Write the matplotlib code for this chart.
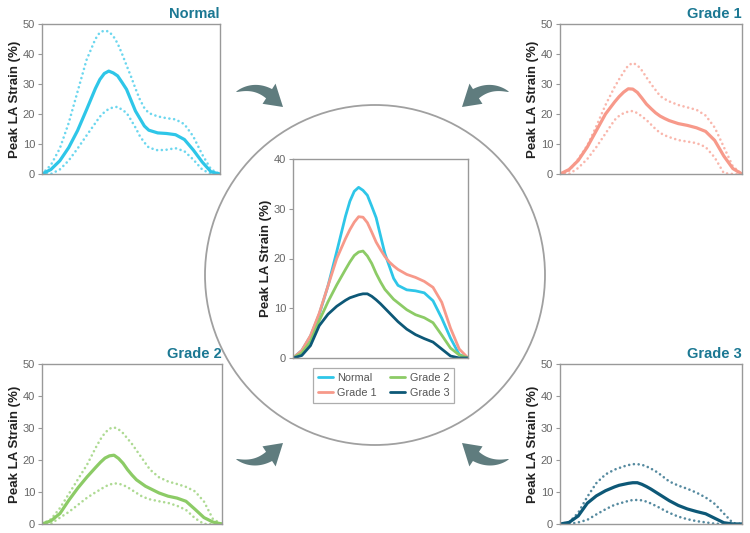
import numpy as np
import matplotlib
matplotlib.use("Agg")
import matplotlib.pyplot as plt
from matplotlib.patches import Circle, Polygon

plt.rcParams['font.family'] = ['Liberation Sans', 'DejaVu Sans']

# Zeitachse (Anteil des Herzzyklus)
zyklus = [0, 0.05, 0.10, 0.15, 0.20, 0.25, 0.30, 0.325, 0.35, 0.375, 0.40, 0.425, 0.45, 0.475,
          0.50, 0.525, 0.55, 0.575, 0.60, 0.65, 0.70, 0.75, 0.80, 0.85, 0.90, 0.95, 1.0]

gruppen = ["Normal", "Grade 1", "Grade 2", "Grade 3"]

# Mittelwerte
normal_mittel = [0, 1.5, 4.4, 8.8, 14.5, 21.4, 28.5, 31.5, 33.5, 34.3, 33.7, 32.7, 30.5, 28.2,
                 24.6, 21, 18.5, 16, 14.6, 13.7, 13.5, 13.1, 11.5, 8, 4, 0.7, 0]
grade1_mittel = [0, 1.5, 4.5, 9, 14.5, 20, 24, 25.8, 27.3, 28.4, 28.3, 27.2, 25.3, 23.3,
                 21.8, 20.4, 19.3, 18.5, 17.8, 16.8, 16.2, 15.4, 14.2, 11.2, 6, 1.8, 0]
grade2_mittel = [0, 1, 3.3, 7.5, 11.3, 14.7, 17.8, 19.3, 20.6, 21.3, 21.5, 20.5, 19, 17,
                 15.3, 13.8, 12.8, 11.8, 11.1, 9.7, 8.7, 8.1, 7.1, 4.6, 2, 0.6, 0]
grade3_mittel = [0, 0.5, 2.5, 6.5, 8.8, 10.4, 11.6, 12.1, 12.4, 12.7, 12.9, 12.9, 12.4, 11.7,
                 10.9, 10, 9.1, 8.2, 7.3, 5.8, 4.7, 3.9, 3.2, 1.8, 0.4, 0, 0]

# obere Grenzen (gepunktet)
normal_oben = [0, 3, 8.5, 17, 27.5, 38, 45, 47.2, 47.8, 47.5, 46, 43.5, 40, 36.2,
               32.5, 28.5, 24.8, 22, 20.3, 19.2, 18.6, 18.2, 16.6, 12.5, 6.5, 1.5, 0]
grade1_oben = [0, 1, 5, 9.5, 16, 23, 29, 31.6, 34, 36.2, 37, 36.3, 34.5, 32.2,
               30, 28, 26, 25, 24.2, 23, 22.2, 21.4, 19.5, 15.5, 9, 2.5, 0]
grade2_oben = [0, 1.5, 5, 9.5, 14, 18.5, 24, 26.5, 28.5, 29.8, 30.2, 29.6, 28.4, 26.7,
               25, 23, 21, 19, 17, 14.6, 13.3, 12.5, 11.6, 10.2, 7, 1.5, 0]
grade3_oben = [0, 0.5, 3.5, 8.5, 12.8, 15.5, 17, 17.5, 18, 18.4, 18.7, 18.7, 18.5, 18,
               17.3, 16.5, 15.5, 14.4, 13.3, 12, 11, 9.8, 8.3, 6.3, 3.3, 0.3, 0]

# untere Grenzen (gepunktet)
normal_unten = [0, 0, 1.5, 4.5, 8.5, 12.8, 17, 19.1, 20.6, 21.7, 22.2, 22.4, 21.4, 20.4,
                18, 15.5, 12.6, 10.5, 8.8, 7.9, 8.1, 8.6, 7.6, 4.8, 1.5, 0, 0]
grade1_unten = [0, 0, 2, 5, 9, 13.5, 18, 19.4, 20.3, 20.8, 21, 20.3, 19.2, 18,
                16.5, 15, 13.7, 12.9, 12.3, 11.3, 10.8, 10.3, 9, 5.5, 0.3, 0, 0]
grade2_unten = [0, 0.1, 2, 3.8, 6, 8.2, 10, 10.8, 11.7, 12.3, 12.7, 12.6, 12.2, 11.5,
                10.6, 9.7, 8.8, 8.2, 7.7, 7.1, 6.6, 5.7, 4.4, 1.8, 0, 0, 0]
grade3_unten = [0, 0, 0.5, 1.3, 3, 4.6, 6, 6.4, 6.8, 7.2, 7.5, 7.5, 7.4, 7,
                6.4, 5.7, 5, 4.2, 3.5, 2.3, 1.5, 0.9, 0.5, 0.1, 0, 0, 0]

farben = ["#2ec6e8", "#f7998a", "#8ccb66", "#0d5877"]
titel_farbe = "#1b7893"
grau = "#999999"
pfeil_farbe = "#5f7c7e"

mittel = [normal_mittel, grade1_mittel, grade2_mittel, grade3_mittel]
oben = [normal_oben, grade1_oben, grade2_oben, grade3_oben]
unten = [normal_unten, grade1_unten, grade2_unten, grade3_unten]

W, H = 750, 533


def px_axes(fig, x0, y0, x1, y1):
    # Pixelkoordinaten (oben links) -> Figure-Koordinaten
    return fig.add_axes([x0 / W, 1 - y1 / H, (x1 - x0) / W, (y1 - y0) / H])


def style_axes(ax, ymax):
    ax.set_xlim(0, 1)
    ax.set_ylim(0, ymax)
    ax.set_xticks([])
    ax.set_yticks(range(0, ymax + 1, 10))
    for s in ax.spines.values():
        s.set_color(grau)
        s.set_linewidth(1.0)
    ax.tick_params(axis="y", length=3, color=grau, labelsize=8, labelcolor="#666666", pad=2)
    ax.set_ylabel("Peak LA Strain (%)", fontsize=9.5, fontweight="bold", color="#222222", labelpad=1.5)


def swoosh(ax, p0, ctrl, p1):
    # geschwungener Pfeil als Polygon
    p0, ctrl, p1 = map(np.array, (p0, ctrl, p1))
    t = np.linspace(0, 0.68, 30)
    def bez(tt):
        return ((1 - tt) ** 2)[:, None] * p0 + (2 * (1 - tt) * tt)[:, None] * ctrl + (tt ** 2)[:, None] * p1
    def tang(tt):
        return (2 * (1 - tt))[:, None] * (ctrl - p0) + (2 * tt)[:, None] * (p1 - ctrl)
    b = bez(t)
    d = tang(t)
    d = d / np.linalg.norm(d, axis=1)[:, None]
    n = np.stack([-d[:, 1], d[:, 0]], axis=1)
    w = 5.5 * (t / t[-1]) ** 0.7
    left = b + n * w[:, None]
    right = b - n * w[:, None]
    base = b[-1]
    nb = n[-1]
    head = [base + nb * 12, p1, base - nb * 12]
    pts = np.vstack([left, head, right[::-1]])
    ax.add_patch(Polygon(pts, closed=True, facecolor=pfeil_farbe, edgecolor="none"))


fig = plt.figure(figsize=(7.5, 5.33), dpi=100)

# Hintergrund-Ebene fuer Kreis und Pfeile
bg = fig.add_axes([0, 0, 1, 1])
bg.set_xlim(0, W)
bg.set_ylim(H, 0)
bg.axis("off")
bg.add_patch(Circle((375, 275), 170, facecolor="none", edgecolor="#a0a0a0", linewidth=1.3))
swoosh(bg, (236, 92), (262, 80), (283, 107))
swoosh(bg, (509, 92), (483, 80), (462, 107))
swoosh(bg, (236, 459), (262, 470), (283, 443))
swoosh(bg, (509, 459), (483, 470), (462, 443))

punkte = (0, (0.01, 1.8))

# Eckdiagramme
positionen = [(42, 24, 220, 174), (560, 24, 742, 174),
              (42, 364, 222, 524), (560, 364, 742, 524)]
for i, pos in enumerate(positionen):
    ax = px_axes(fig, *pos)
    ax.plot(zyklus, oben[i], color=farben[i], lw=1.9, ls=punkte, alpha=0.7,
            dash_capstyle="round")
    ax.plot(zyklus, unten[i], color=farben[i], lw=1.9, ls=punkte, alpha=0.7,
            dash_capstyle="round")
    ax.plot(zyklus, mittel[i], color=farben[i], lw=2.3, solid_joinstyle="round",
            solid_capstyle="round")
    style_axes(ax, 50)
    ax.set_title(gruppen[i], loc="right", fontsize=10.5, fontweight="bold",
                 color=titel_farbe, pad=4)

# mittleres Diagramm
axc = px_axes(fig, 293, 159, 468, 358)
for i in range(4):
    axc.plot(zyklus, mittel[i], color=farben[i], lw=2.0, label=gruppen[i],
             solid_joinstyle="round", solid_capstyle="round")
style_axes(axc, 40)
handles, labels = axc.get_legend_handles_labels()
leg = fig.legend(handles, labels, ncol=2, fontsize=7.8, frameon=True, fancybox=False,
                 loc="upper left", bbox_to_anchor=(313 / W, 1 - 368 / H), borderaxespad=0,
                 handlelength=1.4, handletextpad=0.4, columnspacing=1.2,
                 borderpad=0.45, labelspacing=0.45, labelcolor="#555555")
leg.get_frame().set_edgecolor(grau)
leg.get_frame().set_linewidth(0.9)

fig.savefig("out.png", dpi=100)
